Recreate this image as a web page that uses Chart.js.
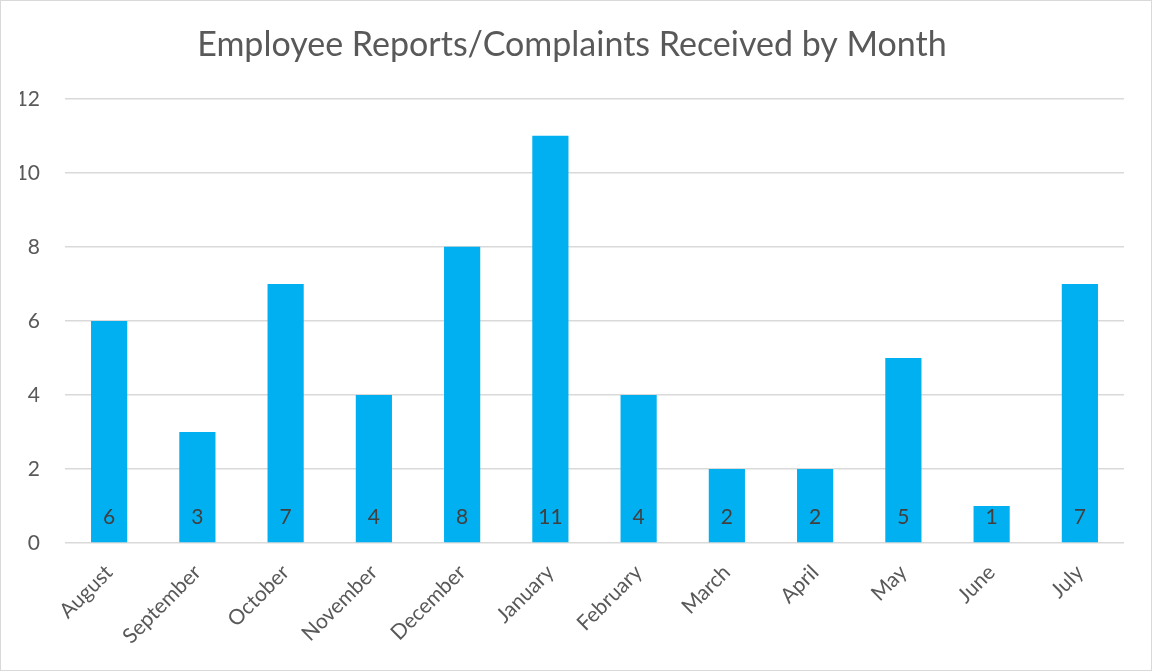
<!DOCTYPE html>
<html>
<head>
<meta charset="utf-8">
<script src="https://cdn.jsdelivr.net/npm/chart.js@4"></script>
<style>
  html, body { margin: 0; padding: 0; background: #fff; }
  #wrap { width: 1152px; height: 671px; box-sizing: border-box; border: 1px solid #d9d9d9; position: relative; }
</style>
</head>
<body>
<div id="wrap"><canvas id="chart"></canvas></div>
<script>
// chart data
const months = ['August', 'September', 'October', 'November', 'December', 'January',
                'February', 'March', 'April', 'May', 'June', 'July'];
const complaints = [6, 3, 7, 4, 8, 11, 4, 2, 2, 5, 1, 7];
const yTicks = [0, 2, 4, 6, 8, 10, 12];

const fontName = 'Lato, "Open Sans", sans-serif';

// draws the value near the bottom of each bar, like Excel's "inside base" labels
const baseLabels = {
    id: 'baseLabels',
    afterDatasetsDraw(chart) {
        const ctx = chart.ctx;
        const meta = chart.getDatasetMeta(0);
        ctx.save();
        ctx.font = '21px ' + fontName;
        ctx.fillStyle = '#404040';
        ctx.textAlign = 'center';
        ctx.textBaseline = 'middle';
        meta.data.forEach(function(bar, i) {
            ctx.fillText(complaints[i], bar.x, bar.base - 25);
        });
        ctx.restore();
    }
};

new Chart(document.getElementById('chart'), {
    type: 'bar',
    data: {
        labels: months,
        datasets: [{
            data: complaints,
            backgroundColor: '#00B0F0',
            categoryPercentage: 1,
            barPercentage: 0.41
        }]
    },
    options: {
        responsive: true,
        maintainAspectRatio: false,
        animation: false,
        layout: { padding: { left: 19, right: 27, top: 0, bottom: 0 } },
        plugins: {
            legend: { display: false },
            tooltip: { enabled: false },
            title: {
                display: true,
                text: 'Employee Reports/Complaints Received by Month',
                color: '#595959',
                font: { family: fontName, size: 34, weight: 'normal' },
                padding: { top: 24, bottom: 33 }
            }
        },
        scales: {
            x: {
                grid: { display: false },
                border: { display: false },
                ticks: {
                    color: '#595959',
                    font: { family: fontName, size: 21 },
                    maxRotation: 45,
                    minRotation: 45,
                    padding: 9
                },
                afterFit(scale) { scale.height = 127; }
            },
            y: {
                min: 0,
                max: 12,
                afterBuildTicks(scale) { scale.ticks = yTicks.map(v => ({ value: v })); },
                grid: { color: '#d9d9d9', lineWidth: 1.5, drawTicks: false },
                border: { display: false },
                ticks: {
                    color: '#595959',
                    font: { family: fontName, size: 21 },
                    padding: 25
                },
                afterFit(scale) { scale.width = 45; }
            }
        }
    },
    plugins: [baseLabels]
});
</script>
</body>
</html>
